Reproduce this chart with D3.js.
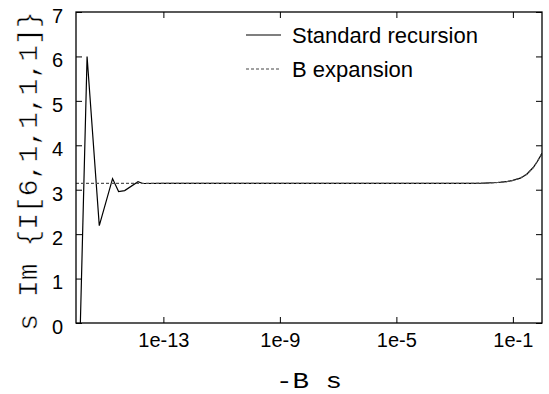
<!DOCTYPE html>
<html>
<head>
<meta charset="utf-8">
<script src="https://cdn.jsdelivr.net/npm/d3@7"></script>
<style>
  html, body { margin: 0; padding: 0; background: #fff; }
  svg { display: block; }
</style>
</head>
<body>
<svg id="chart" width="549" height="394"></svg>
<script>
// ---- data ----
const recursionX = [1e-16, 2.4e-16, 6.3e-16, 1.8e-15, 2.9e-15, 4.7e-15, 1.35e-14, 1.95e-14,
  1e-13, 1e-12, 1e-11, 1e-10, 1e-9, 1e-8, 1e-7, 1e-6, 1e-5, 1e-4, 1e-3,
  3e-3, 1e-2, 3e-2, 6e-2, 1e-1, 0.18, 0.3, 0.5, 0.7, 1];
const recursionY = [-3.9, 6.0, 2.19, 3.25, 2.96, 2.98, 3.18, 3.14,
  3.1416, 3.1416, 3.1416, 3.1416, 3.1416, 3.1416, 3.1416, 3.1416, 3.1416, 3.1416, 3.1416,
  3.144, 3.148, 3.162, 3.18, 3.21, 3.26, 3.35, 3.5, 3.64, 3.82];
const expansionX = [1e-16, 1e-15, 1e-14, 1e-13, 1e-12, 1e-11, 1e-10, 1e-9, 1e-8, 1e-7, 1e-6,
  1e-5, 1e-4, 1e-3, 3e-3, 1e-2, 3e-2, 6e-2, 1e-1, 0.18, 0.3, 0.5, 0.7, 1];
const expansionY = [3.1416, 3.1416, 3.1416, 3.1416, 3.1416, 3.1416, 3.1416, 3.1416, 3.1416, 3.1416, 3.1416,
  3.1416, 3.1416, 3.1416, 3.144, 3.148, 3.162, 3.18, 3.21, 3.26, 3.35, 3.5, 3.64, 3.82];
const xTickValues = [1e-13, 1e-9, 1e-5, 1e-1];
const xTickLabels = ["1e-13", "1e-9", "1e-5", "1e-1"];
const yTickValues = [0, 1, 2, 3, 4, 5, 6, 7];
const seriesNames = ["Standard recursion", "B expansion"];
const xLabel = "-B s";
const yLabel = "s Im {I[6,1,1,1,1]}";

// ---- layout ----
const L = 76, R = 542, T = 12, B = 323;
const sans = "'Liberation Sans', Arial, Helvetica, sans-serif";
const mono = "'Liberation Mono', 'Courier New', monospace";

const svg = d3.select("#chart");
const x = d3.scaleLog().domain([1e-16, 1]).range([L, R]);
const y = d3.scaleLinear().domain([0, 7]).range([B, T]);

svg.append("defs").append("clipPath").attr("id", "plotclip")
  .append("rect").attr("x", L).attr("y", T).attr("width", R - L).attr("height", B - T);

function styleAxis(g, showText) {
  g.select(".domain").remove();
  g.selectAll(".tick line").attr("stroke", "#000").attr("stroke-width", 1);
  if (!showText) g.selectAll(".tick text").remove();
  else g.selectAll(".tick text").attr("font-family", sans).attr("font-size", 20).attr("fill", "#000");
}

// bottom axis
svg.append("g").attr("transform", `translate(0,${B})`)
  .call(d3.axisBottom(x).tickValues(xTickValues)
    .tickFormat((d, i) => xTickLabels[i]).tickSize(-6).tickPadding(9.5))
  .call(g => styleAxis(g, true));
// top axis
svg.append("g").attr("transform", `translate(0,${T})`)
  .call(d3.axisTop(x).tickValues(xTickValues).tickSize(-6))
  .call(g => styleAxis(g, false));
// left axis
svg.append("g").attr("transform", `translate(${L},0)`)
  .call(d3.axisLeft(y).tickValues(yTickValues).tickFormat(d3.format("d")).tickSize(-6).tickPadding(13))
  .call(g => { styleAxis(g, true); g.selectAll(".tick text").attr("dy", "0.52em"); });
// right axis
svg.append("g").attr("transform", `translate(${R},0)`)
  .call(d3.axisRight(y).tickValues(yTickValues).tickSize(-6))
  .call(g => styleAxis(g, false));

// lines
const line = d3.line().x(d => x(d[0])).y(d => y(d[1]));
const recData = recursionX.map((v, i) => [v, recursionY[i]]);
const expData = expansionX.map((v, i) => [v, expansionY[i]]);
const plot = svg.append("g").attr("clip-path", "url(#plotclip)");
plot.append("path").datum(recData).attr("d", line)
  .attr("fill", "none").attr("stroke", "#000").attr("stroke-width", 1.2);
plot.append("path").datum(expData).attr("d", line)
  .attr("fill", "none").attr("stroke", "#555").attr("stroke-width", 1.2).attr("stroke-dasharray", "3,2");

// frame
svg.append("rect").attr("x", L).attr("y", T).attr("width", R - L).attr("height", B - T)
  .attr("fill", "none").attr("stroke", "#000").attr("stroke-width", 1.3);

// legend
const legend = svg.append("g");
const legY = [35, 69];
seriesNames.forEach((name, i) => {
  legend.append("line").attr("x1", 246).attr("x2", 281).attr("y1", legY[i]).attr("y2", legY[i])
    .attr("stroke", i === 0 ? "#000" : "#444").attr("stroke-width", 1.2)
    .attr("stroke-dasharray", i === 0 ? null : "3,2");
  legend.append("text").attr("x", 292).attr("y", legY[i] + 8)
    .attr("font-family", sans).attr("font-size", 22).attr("fill", "#000").text(name);
});

// axis labels
svg.append("text").attr("x", 276).attr("y", 388)
  .attr("font-family", mono).attr("font-size", 22).attr("fill", "#000")
  .attr("textLength", 66).attr("lengthAdjust", "spacingAndGlyphs").text(xLabel);
svg.append("text").attr("transform", "translate(37,171) rotate(-90)").attr("text-anchor", "middle")
  .attr("font-family", mono).attr("font-size", 28).attr("fill", "#000")
  .attr("stroke", "#fff").attr("stroke-width", 0.5).text(yLabel);
</script>
</body>
</html>
